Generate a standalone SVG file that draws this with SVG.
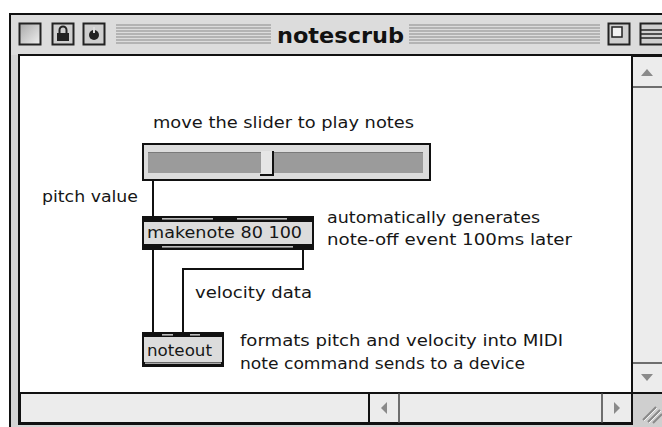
<svg xmlns="http://www.w3.org/2000/svg" width="662" height="427" viewBox="0 0 662 427">
<style>
text{font-family:"DejaVu Sans","Liberation Sans",sans-serif;font-size:16px;fill:#161616}
.title{font-family:"DejaVu Sans Condensed","DejaVu Sans",sans-serif;font-weight:bold;font-size:21px;fill:#111}
.box{fill:#dcdcdc;stroke:#111;stroke-width:2}
.wire{fill:none;stroke:#111;stroke-width:2}
.stripe{stroke:#8a8a8a;stroke-width:1.2}
.tb{fill:#cfcfcf;stroke:#222;stroke-width:2}
.arrow{fill:#8a8a8a}
</style>
<defs>
<linearGradient id="btn" x1="0" y1="0" x2="1" y2="1">
<stop offset="0" stop-color="#a8a8a8"/><stop offset="1" stop-color="#f0f0f0"/>
</linearGradient>
</defs>
<rect width="662" height="427" fill="#ffffff"/>
<g id="window">
<rect x="10" y="14" width="660" height="415" fill="#d4d4d4" stroke="#111" stroke-width="2"/>
<rect x="11" y="15" width="651" height="40" fill="#dcdcdc"/>
<g id="stripes">
<line class="stripe" x1="116" y1="25" x2="271" y2="25"/><line class="stripe" x1="116" y1="28" x2="271" y2="28"/>
<line class="stripe" x1="116" y1="31" x2="271" y2="31"/><line class="stripe" x1="116" y1="34" x2="271" y2="34"/>
<line class="stripe" x1="116" y1="37" x2="271" y2="37"/><line class="stripe" x1="116" y1="40" x2="271" y2="40"/>
<line class="stripe" x1="116" y1="43" x2="271" y2="43"/>
<line class="stripe" x1="409" y1="25" x2="600" y2="25"/><line class="stripe" x1="409" y1="28" x2="600" y2="28"/>
<line class="stripe" x1="409" y1="31" x2="600" y2="31"/><line class="stripe" x1="409" y1="34" x2="600" y2="34"/>
<line class="stripe" x1="409" y1="37" x2="600" y2="37"/><line class="stripe" x1="409" y1="40" x2="600" y2="40"/>
<line class="stripe" x1="409" y1="43" x2="600" y2="43"/>
</g>
<text class="title" x="277" y="43" textLength="127" lengthAdjust="spacingAndGlyphs">notescrub</text>
<rect x="19.5" y="23.5" width="21" height="21" fill="url(#btn)" stroke="#222" stroke-width="2"/>
<rect x="52.5" y="23.5" width="21" height="21" class="tb"/>
<rect x="57" y="33" width="12" height="8" fill="#222"/><path d="M59.5 33 v-3 a3.5 3.5 0 0 1 7 0 v3" fill="none" stroke="#222" stroke-width="2"/>
<rect x="83.5" y="23.5" width="21" height="21" class="tb"/>
<circle cx="94" cy="35" r="5" fill="#222"/><rect x="93" y="27" width="2" height="6" fill="#dcdcdc"/>
<rect x="608.5" y="23.5" width="21" height="21" class="tb"/>
<rect x="612" y="27" width="10" height="10" fill="#f2f2f2" stroke="#222" stroke-width="1.5"/>
<rect x="640.5" y="23.5" width="24" height="21" class="tb"/>
<line x1="641" y1="30" x2="662" y2="30" stroke="#222" stroke-width="1.5"/>
<line x1="641" y1="34" x2="662" y2="34" stroke="#222" stroke-width="1.5"/>
<line x1="641" y1="38" x2="662" y2="38" stroke="#222" stroke-width="1.5"/>
<rect x="19" y="55" width="650" height="369" fill="#ffffff" stroke="#111" stroke-width="2"/>
<g id="vscroll">
<rect x="632" y="56" width="32" height="337" fill="#ececec" stroke="#111" stroke-width="2"/>
<line x1="633" y1="87" x2="662" y2="87" stroke="#444" stroke-width="1.5"/>
<line x1="633" y1="363" x2="662" y2="363" stroke="#444" stroke-width="1.5"/>
<path class="arrow" d="M641 76 L647 69 L653 76 Z"/>
<path class="arrow" d="M641 374 L647 381 L653 374 Z"/>
</g>
<g id="hscroll">
<rect x="20" y="393" width="612" height="30" fill="#ececec" stroke="#111" stroke-width="2"/>
<line x1="369" y1="393" x2="369" y2="423" stroke="#111" stroke-width="2"/>
<line x1="399" y1="393" x2="399" y2="423" stroke="#444" stroke-width="1.5"/>
<line x1="602" y1="393" x2="602" y2="423" stroke="#444" stroke-width="1.5"/>
<path class="arrow" d="M387 402 L381 408 L387 414 Z"/>
<path class="arrow" d="M614 402 L620 408 L614 414 Z"/>
</g>
<g id="grow">
<rect x="633" y="394" width="30" height="34" fill="#cfcfcf"/>
<path d="M643 420 L656 407 M648 422 L660 410 M653 423 L662 414" stroke="#8a8a8a" stroke-width="2"/>
<path d="M644 421 L657 408 M649 423 L661 411" stroke="#f4f4f4" stroke-width="1"/>
</g>
</g>
<g id="connectors">
<path class="wire" d="M153 180 V217"/>
<path class="wire" d="M153 249 V333"/>
<path class="wire" d="M303 249 V269 H183 V333"/>
</g>
<g id="slider">
<rect x="143" y="144" width="287" height="36" class="box"/>
<rect x="148" y="152" width="275" height="21" fill="#9b9b9b"/>
<line x1="148" y1="152.5" x2="423" y2="152.5" stroke="#7a7a7a" stroke-width="1"/>
<rect x="261" y="151" width="12" height="23" fill="#e6e6e6"/>
<path d="M273 151 V175 H260" fill="none" stroke="#111" stroke-width="2"/>
</g>
<g id="makenote">
<rect x="143" y="217" width="170" height="32" class="box"/>
<rect x="143" y="216" width="170" height="6" fill="#111"/>
<rect x="162" y="218" width="51" height="1.6" fill="#bdbdbd"/>
<rect x="237" y="218" width="50" height="1.6" fill="#bdbdbd"/>
<rect x="143" y="244" width="170" height="6" fill="#111"/>
<rect x="162" y="246" width="131" height="1.6" fill="#bdbdbd"/>
<text x="147" y="238" textLength="155" lengthAdjust="spacingAndGlyphs">makenote 80 100</text>
</g>
<g id="noteout">
<rect x="143" y="333" width="80" height="33" class="box"/>
<rect x="143" y="332" width="80" height="5" fill="#111"/>
<rect x="162" y="334" width="11" height="1.6" fill="#bdbdbd"/>
<rect x="190" y="334" width="10" height="1.6" fill="#bdbdbd"/>
<rect x="143" y="362" width="80" height="4" fill="#111"/>
<rect x="145" y="362.5" width="76" height="1.4" fill="#bdbdbd"/>
<text x="147" y="356" textLength="65" lengthAdjust="spacingAndGlyphs">noteout</text>
</g>
<g id="labels">
<text x="153" y="128" textLength="261" lengthAdjust="spacingAndGlyphs">move the slider to play notes</text>
<text x="42" y="202" textLength="96" lengthAdjust="spacingAndGlyphs">pitch value</text>
<text x="327" y="223" textLength="213" lengthAdjust="spacingAndGlyphs">automatically generates</text>
<text x="327" y="245" textLength="245" lengthAdjust="spacingAndGlyphs">note-off event 100ms later</text>
<text x="195" y="298" textLength="117" lengthAdjust="spacingAndGlyphs">velocity data</text>
<text x="240" y="346" textLength="323" lengthAdjust="spacingAndGlyphs">formats pitch and velocity into MIDI</text>
<text x="240" y="369" textLength="285" lengthAdjust="spacingAndGlyphs">note command sends to a device</text>
</g>
</svg>
